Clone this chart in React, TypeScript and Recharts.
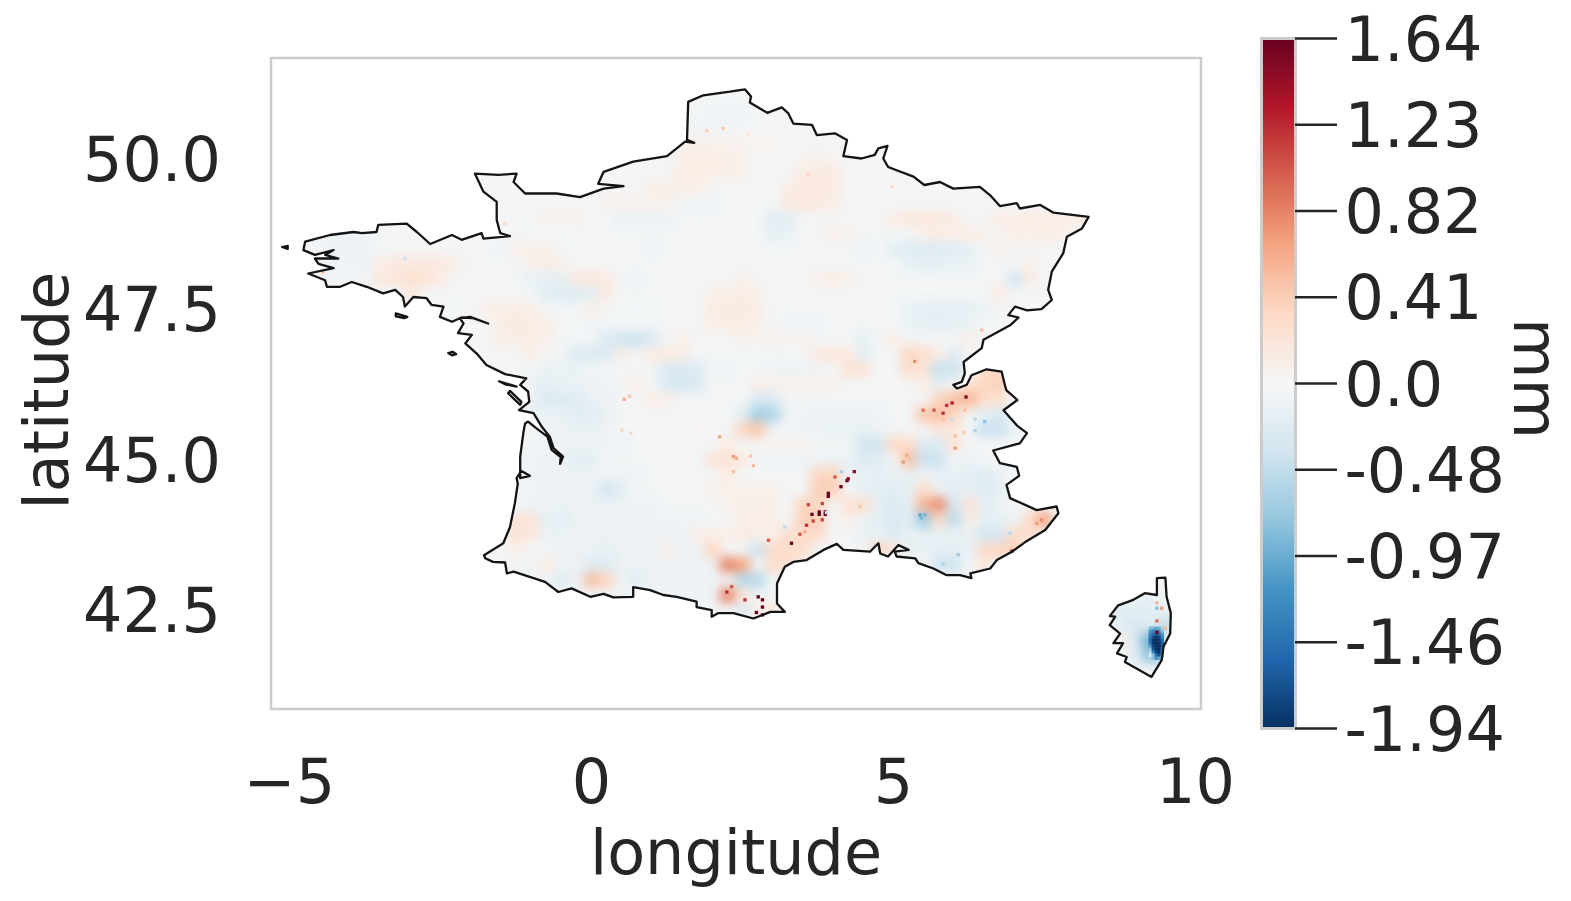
import { Bar, BarChart, ReferenceArea, Scatter, ScatterChart, XAxis, YAxis } from "recharts";

const INK = "#262626";
const FONT = "'DejaVu Sans', sans-serif";
const TICK_FONT = 62;

const lonDomain = [-5.306, 10.09];
const latDomain = [40.857, 51.67];
const lonTicks = [-5, 0, 5, 10];
const latTicks = [42.5, 45, 47.5, 50];

// colorbar, two slope norm so the labels sit evenly
const colorbarLabels = ["-1.94", "-1.46", "-0.97", "-0.48", "0.0", "0.41", "0.82", "1.23", "1.64"];
const colorbarPositions = [-4, -3, -2, -1, 0, 1, 2, 3, 4];
const colorbarBar = [{ name: "mm", range: [-4, 4] }];
const rdBu = ["#053061", "#2166ac", "#4393c3", "#92c5de", "#d1e5f0", "#f7f7f7", "#fddbc7", "#f4a582", "#d6604d", "#b2182b", "#67001f"];

// lon, lat outlines
const mainland = [
  [-1.78, 43.41], [-1.46, 43.61], [-1.35, 43.88], [-1.27, 44.27], [-1.22, 44.6], [-1.24, 44.69], [-1.16, 44.81], [-1.02, 44.73], [-1.18, 44.69], [-1.18, 45.05],
  [-1.13, 45.44], [-1.1, 45.6], [-1.05, 45.63], [-0.91, 45.52], [-0.73, 45.38], [-0.66, 45.16], [-0.51, 45.04], [-0.52, 44.93], [-0.47, 45.05], [-0.63, 45.19],
  [-0.69, 45.38], [-0.82, 45.54], [-0.96, 45.77], [-1.2, 45.82], [-1.03, 45.96], [-1.05, 46.13], [-1.18, 46.24], [-1.08, 46.35], [-1.43, 46.42], [-1.74, 46.57],
  [-1.9, 46.76], [-2.09, 46.93], [-1.98, 47.07], [-2.21, 47.1], [-2.12, 47.26], [-2.18, 47.35], [-2.01, 47.37], [-1.71, 47.26], [-1.96, 47.35], [-2.15, 47.36],
  [-2.31, 47.29], [-2.51, 47.37], [-2.45, 47.54], [-2.65, 47.57], [-2.73, 47.68], [-2.95, 47.7], [-3.09, 47.54], [-3.12, 47.7], [-3.25, 47.82], [-3.45, 47.76],
  [-3.72, 47.87], [-3.97, 47.95], [-4.16, 47.87], [-4.38, 47.87], [-4.41, 47.98], [-4.69, 48.09], [-4.27, 48.18], [-4.52, 48.25], [-4.58, 48.34], [-4.19, 48.34],
  [-4.41, 48.4], [-4.27, 48.48], [-4.58, 48.4], [-4.77, 48.48], [-4.74, 48.62], [-4.33, 48.73], [-3.94, 48.78], [-3.8, 48.76], [-3.56, 48.78], [-3.53, 48.9],
  [-3.06, 48.92], [-2.89, 48.78], [-2.67, 48.58], [-2.31, 48.73], [-2.15, 48.65], [-1.82, 48.76], [-1.79, 48.67], [-1.35, 48.71], [-1.51, 48.76], [-1.57, 48.98],
  [-1.57, 49.28], [-1.79, 49.45], [-1.93, 49.75], [-1.54, 49.73], [-1.24, 49.75], [-1.29, 49.61], [-1.1, 49.42], [-0.58, 49.42], [-0.19, 49.36], [0.2, 49.5],
  [0.53, 49.54], [0.11, 49.58], [0.2, 49.78], [0.69, 49.95], [1.25, 50.04], [1.55, 50.28], [1.7, 50.26], [1.58, 50.31], [1.6, 50.94], [1.85, 51.05],
  [2.29, 51.11], [2.54, 51.15], [2.64, 51.03], [2.62, 50.93], [2.91, 50.76], [3.15, 50.85], [3.26, 50.75], [3.34, 50.58], [3.65, 50.56], [3.73, 50.39],
  [4.03, 50.42], [4.23, 50.31], [4.17, 50.04], [4.47, 50.0], [4.69, 50.06], [4.75, 50.17], [4.9, 50.21], [4.83, 50.0], [4.91, 49.86], [5.33, 49.7],
  [5.51, 49.56], [5.77, 49.61], [5.99, 49.5], [6.43, 49.53], [6.6, 49.39], [6.76, 49.21], [7.04, 49.26], [7.09, 49.17], [7.43, 49.23], [7.65, 49.1],
  [8.23, 49.03], [8.12, 48.84], [7.87, 48.7], [7.81, 48.43], [7.62, 48.12], [7.56, 47.82], [7.62, 47.65], [7.45, 47.5], [7.21, 47.48], [7.01, 47.54],
  [6.9, 47.4], [7.07, 47.36], [6.93, 47.23], [6.49, 46.99], [6.46, 46.85], [6.16, 46.62], [6.18, 46.43], [6.13, 46.29], [5.99, 46.24], [6.05, 46.18],
  [6.21, 46.24], [6.29, 46.4], [6.54, 46.5], [6.79, 46.46], [6.85, 46.21], [6.87, 46.15], [7.05, 45.99], [6.82, 45.82], [7.04, 45.57], [7.21, 45.44],
  [7.09, 45.27], [6.65, 45.15], [6.76, 44.94], [7.04, 44.88], [7.08, 44.73], [6.87, 44.58], [6.93, 44.36], [7.37, 44.16], [7.7, 44.22], [7.73, 44.11],
  [7.51, 43.83], [7.18, 43.63], [6.96, 43.47], [6.71, 43.33], [6.6, 43.19], [6.27, 43.11], [6.29, 43.03], [6.1, 43.08], [5.88, 43.08], [5.66, 43.19],
  [5.41, 43.28], [5.36, 43.36], [5.05, 43.39], [5.02, 43.47], [5.25, 43.5], [5.08, 43.58], [4.91, 43.39], [4.78, 43.44], [4.75, 43.61], [4.61, 43.47],
  [4.17, 43.5], [4.06, 43.6], [3.84, 43.5], [3.56, 43.33], [3.34, 43.3], [3.2, 43.22], [3.07, 42.94], [3.07, 42.61], [3.2, 42.47], [2.96, 42.47],
  [2.68, 42.36], [2.35, 42.45], [2.1, 42.45], [1.99, 42.39], [1.99, 42.5], [1.74, 42.55], [1.74, 42.64], [1.41, 42.72], [1.19, 42.75], [0.97, 42.83],
  [0.69, 42.88], [0.69, 42.72], [0.36, 42.71], [0.2, 42.77], [-0.02, 42.72], [-0.33, 42.86], [-0.55, 42.8], [-0.77, 42.97], [-1.29, 43.14], [-1.4, 43.11],
  [-1.43, 43.29], [-1.63, 43.3], [-1.76, 43.36],
];
const corsica = [
  [9.36, 43.03], [9.5, 43.04], [9.52, 42.72], [9.59, 42.45], [9.58, 42.11], [9.47, 41.89], [9.44, 41.67], [9.27, 41.39], [9.11, 41.48], [8.83, 41.64],
  [8.86, 41.72], [8.7, 41.78], [8.8, 41.95], [8.64, 41.95], [8.75, 42.11], [8.58, 42.25], [8.67, 42.39], [8.58, 42.4], [8.72, 42.58], [8.97, 42.67],
  [9.16, 42.78], [9.36, 42.75],
];
const ouessant = [[-5.12, 48.53], [-5.03, 48.55], [-5.03, 48.5]];
const belleIle = [[-3.24, 47.43], [-3.05, 47.37], [-3.1, 47.35], [-3.24, 47.38]];
const yeu = [[-2.37, 46.77], [-2.3, 46.79], [-2.24, 46.75], [-2.31, 46.73]];
const re = [[-1.53, 46.3], [-1.24, 46.21], [-1.43, 46.25]];
const oleron = [[-1.38, 46.1], [-1.18, 45.91], [-1.16, 45.96], [-1.35, 46.14]];
const coastRings = [mainland, corsica, ouessant, belleIle, yeu, re, oleron];

// anomalies on a quarter degree grid: lat, first lon, then one value per cell eastward
const washRows = [
  [48.75, -4.5, -0.1, -0.1, -0.08, -0.08],
  [48.5, -1.5, -0.08, -0.08, -0.08, -0.08],
  [46.25, -1, -0.12, -0.12, -0.12, -0.12, -0.12, -0.1],
  [46, -1, -0.12, -0.12, -0.12, -0.12, -0.12, -0.12],
  [45.75, -1, -0.12, -0.12, -0.12, -0.12, -0.12, -0.12],
  [45.5, -0.75, -0.12, -0.12, -0.12, -0.12, -0.12],
  [45.25, -0.75, -0.1, -0.1, -0.1, -0.1, -0.1, -0.1],
  [45, -1, -0.1, -0.1, -0.1, -0.1, -0.1],
  [44.75, -1, -0.1, -0.1, -0.1, -0.12, -0.1, -0.1, -0.1, -0.1],
  [44.5, -1, -0.1, -0.1, -0.1, -0.1, -0.1],
  [44.25, -1.25, -0.1, -0.1, -0.1, -0.12, -0.12, -0.12, -0.1, -0.1, -0.1, -0.1],
  [44, -1, -0.12, -0.12, -0.12, -0.12, -0.12, -0.12, -0.12, -0.1, -0.1, -0.1, -0.1, -0.1],
  [43.75, -0.75, -0.12, -0.12, -0.12, -0.12, -0.12, -0.1, -0.1, -0.1, -0.1, -0.1],
  [43.5, -0.5, -0.12, -0.12, -0.12, -0.15, -0.12, -0.12, -0.1, -0.1, -0.1, -0.1],
  [43.25, -1, -0.1, -0.1, -0.1, -0.12, -0.12, -0.12, -0.12, -0.12, -0.12, -0.1, -0.1, -0.1, -0.1, -0.1],
  [43, -0.75, -0.1, -0.1, -0.12, -0.12, -0.12, -0.1, -0.1, -0.1, -0.1, -0.1, -0.1, -0.1],
  [42.75, 0.25, -0.1, -0.1, -0.1, -0.1, -0.1, -0.12, -0.12, -0.1, -0.1, -0.1],
  [46.5, 3, -0.1, -0.1, -0.1, -0.1],
  [45.75, 3.25, -0.1, -0.1, -0.12, -0.12, -0.12, -0.12, -0.1],
  [45.5, 3.5, -0.1, -0.12, -0.14, -0.14, -0.14, -0.12],
  [45, 3, -0.1, -0.1, -0.1, -0.1, -0.12, -0.14],
  [44.75, 4.25, -0.15, -0.15, -0.18, -0.18, -0.15, -0.15, -0.15, -0.18, -0.2, -0.15, -0.15],
  [44.5, 4.5, -0.15, -0.2, -0.2, -0.18, -0.15, -0.15, -0.18, -0.18, -0.2, -0.2],
  [44.25, 4.5, -0.12, -0.18, -0.25, -0.2, -0.15, -0.15, -0.15, -0.18, -0.2, -0.18],
  [44, 4.5, -0.12, -0.2, -0.28, -0.22, -0.15, -0.15, -0.15, -0.18, -0.2, -0.18, -0.12],
  [43.75, 4.5, -0.12, -0.15, -0.2, -0.15, -0.15, -0.15, -0.12, -0.15, -0.2, -0.15],
  [43.5, 5.25, -0.15, -0.15, -0.18, -0.18, -0.15, -0.12],
  [44.5, 2, 0.08, 0.08, 0.08, 0.08, 0.08],
  [44.25, 2.25, 0.08, 0.1, 0.1, 0.1],
  [44, 2.5, 0.1, 0.1, 0.12],
  [43.75, 2, 0.1, 0.1, 0.1, 0.1, 0.1],
  [46.25, 3, 0.08, 0.08, 0.08, 0.08, 0.08],
  [45.25, 3, 0.06, 0.06, 0.06],
  [46.75, 5.75, 0.1, 0.1],
];

const fieldRows = [
  [50.75, 2, -0.08, -0.08, -0.08],
  [50.5, 1.75, -0.06, -0.06, -0.06, -0.06],
  [50.25, 1.5, 0.08, 0.08, 0.08, 0.06, 0.06, 0.06, 0.06],
  [50, 1.5, 0.12, 0.12, 0.12, 0.1, 0.08],
  [50, 3.5, 0.06, 0.08, 0.06],
  [49.75, 1.5, 0.13, 0.13, 0.12, 0.1, 0.08],
  [49.75, 3.5, 0.14, 0.16, 0.15],
  [49.5, 1, 0.12, 0.11, 0.12, 0.1],
  [49.5, 3.25, 0.14, 0.16, 0.16, 0.14],
  [49.25, 0.25, 0.08, 0.07, 0.08, 0.07, 0.08],
  [49.25, 1.5, -0.08, -0.07, -0.08],
  [49.25, 3.25, 0.15, 0.17, 0.15, 0.13],
  [49, -0.75, 0.08, 0.07, 0.08],
  [49, 0.5, -0.15, -0.14, -0.15, -0.12],
  [49, 3, -0.22, -0.2],
  [49, 5, 0.14, 0.16, 0.18, 0.16, 0.14],
  [49, 6.75, 0.14, 0.12, 0.14, 0.13, 0.14, 0.12, 0.1],
  [48.75, -1, -0.05, -0.05, -0.05],
  [48.75, 3, -0.18, -0.16],
  [48.75, 4, 0.1, 0.08],
  [48.75, 5.5, 0.1, 0.12, 0.1, 0.12, 0.1],
  [48.75, 7, 0.12, 0.1, 0.12, 0.1],
  [48.5, -4.25, -0.12, -0.1, -0.12],
  [48.5, -1.25, 0.1, 0.08, 0.1],
  [48.5, 1, -0.1],
  [48.5, 4.5, -0.12],
  [48.5, 5, -0.2, -0.24, -0.26, -0.24, -0.22, -0.18],
  [48.5, 6.75, 0.1],
  [48.25, -4.25, -0.12, -0.1, -0.12],
  [48.25, -3.5, 0.12, 0.16, 0.16, 0.18, 0.16, 0.1],
  [48.25, -1, 0.1, 0.12, 0.1],
  [48.25, 5.25, -0.16, -0.18, -0.18, -0.16, -0.14],
  [48.25, 7.25, 0.12],
  [48, -3.5, 0.16, 0.2, 0.26, 0.24, 0.14],
  [48, -1, -0.16, -0.18, -0.2, -0.16],
  [48, -0.25, 0.16, 0.18, 0.15],
  [48, 0.75, -0.1],
  [48, 2.5, 0.1],
  [48, 3.75, 0.1, 0.12, 0.1],
  [48, 7, -0.35],
  [48, 7.25, 0.14],
  [47.75, -3, 0.16],
  [47.75, -0.75, -0.22, -0.24, -0.26, -0.2],
  [47.75, 0.25, 0.16],
  [47.75, 2, 0.1, 0.12, 0.12, 0.1],
  [47.75, 6.75, 0.15],
  [47.5, -2.25, -0.05],
  [47.5, -1.75, 0.1, 0.12, 0.12, 0.1],
  [47.5, 0, 0.12],
  [47.5, 0.5, -0.05, -0.05, -0.05],
  [47.5, 2, 0.12, 0.15, 0.15, 0.12],
  [47.5, 5.25, -0.16, -0.18, -0.2, -0.18, -0.18, -0.14],
  [47.25, -1.5, 0.12, 0.15, 0.14, 0.12],
  [47.25, -0.25, -0.05],
  [47.25, 0, -0.1],
  [47.25, 2, 0.12, 0.14, 0.13, 0.1],
  [47.25, 3.25, -0.08, -0.08, -0.08],
  [47.25, 5.25, -0.14, -0.16, -0.18, -0.16, -0.14],
  [47, -1.5, 0.1, 0.12, 0.13, 0.1],
  [47, 0.25, -0.3, -0.38, -0.42, -0.3],
  [47, 1.5, 0.1],
  [47, 2.5, 0.08, 0.06, 0.08, 0.06, 0.08],
  [47, 4.5, -0.18],
  [47, 5, 0.12],
  [47, 6.25, 0.12],
  [46.75, -1, 0.12],
  [46.75, -0.25, -0.28, -0.3, -0.28],
  [46.75, 0.5, 0.12],
  [46.75, 1, 0.14, 0.16, 0.13],
  [46.75, 2.5, -0.05, -0.05, -0.05, -0.05],
  [46.75, 3.75, 0.16, 0.2, 0.15],
  [46.75, 4.5, -0.2],
  [46.75, 5.25, 0.35, 0.3],
  [46.75, 6, -0.25],
  [46.5, -0.75, -0.14, -0.14, -0.14],
  [46.5, 1.25, -0.3, -0.3, -0.28],
  [46.5, 2.25, -0.1],
  [46.5, 4.25, 0.25, 0.22],
  [46.5, 5.25, 0.3, 0.22],
  [46.5, 5.75, -0.45, -0.4],
  [46.5, 6.5, 0.3, 0.35],
  [46.25, -0.75, -0.2],
  [46.25, 0.75, 0.12],
  [46.25, 1.25, -0.3, -0.36, -0.3],
  [46.25, 2.75, 0.1],
  [46.25, 5.5, 0.12],
  [46.25, 5.75, -0.2],
  [46.25, 6.25, 0.25, 0.35, 0.4],
  [46, -0.75, -0.28, -0.28, -0.26],
  [46, 1, 0.12, 0.1],
  [46, 2.75, -0.3, -0.3],
  [46, 5.75, 0.35, 0.5, 0.55, 0.3, 0.25],
  [45.75, -0.25, -0.22, -0.22],
  [45.75, 2.5, -0.2, -0.65, -0.6],
  [45.75, 5.5, 0.45, 0.5, 0.35],
  [45.75, 6.5, -0.2, -0.3],
  [45.5, 1.75, 0.05],
  [45.5, 2.5, 0.35, 0.45, -0.1],
  [45.5, 5.75, 0.2, 0.2],
  [45.5, 6.5, -0.42, -0.42, -0.15],
  [45.25, 2.25, 0.15],
  [45.25, 4.5, -0.38, -0.38],
  [45.25, 5, 0.32, 0.32],
  [45.25, 5.5, -0.28, -0.28],
  [45.25, 6, 0.2],
  [45, -0.25, -0.2, -0.2],
  [45, 2, 0.2, 0.25, 0.15],
  [45, 4.5, -0.25, -0.25],
  [45, 5.25, 0.5],
  [45, 5.5, -0.42, -0.42],
  [45, 6.25, -0.12],
  [45, 7, -0.15],
  [44.75, 2.25, 0.15],
  [44.75, 3.75, 0.35, 0.35],
  [44.75, 5, -0.15],
  [44.75, 5.5, -0.1],
  [44.75, 6.5, -0.25],
  [44.5, -0.75, -0.1],
  [44.5, 0.25, -0.38, -0.2],
  [44.5, 3.75, 0.4, 0.4],
  [44.5, 5.5, 0.3],
  [44.5, 6, -0.2],
  [44.5, 6.5, -0.25],
  [44.25, 3.5, 0.35, 0.35],
  [44.25, 4.25, 0.25, 0.25],
  [44.25, 5, -0.3],
  [44.25, 5.5, 0.55, 0.75],
  [44.25, 6, -0.35, 0.22],
  [44.25, 6.75, -0.1],
  [44, -1.25, 0.22, 0.22],
  [44, -0.75, -0.18, -0.18],
  [44, 3.5, 0.4, 0.4],
  [44, 4.25, 0.1],
  [44, 5, -0.3],
  [44, 5.5, -0.7, 0.3, -0.5, 0.12],
  [44, 7.25, 0.3, 0.65],
  [43.75, -1.25, 0.25, 0.18],
  [43.75, 1.75, 0.1],
  [43.75, 2.5, 0.15],
  [43.75, 3.25, 0.3, 0.3, 0.3],
  [43.75, 4.5, -0.15],
  [43.75, 5, -0.28],
  [43.75, 6.5, -0.35, -0.35],
  [43.75, 7, 0.3, 0.3],
  [43.5, -1.25, 0.1],
  [43.5, 1.25, 0.1],
  [43.5, 2, 0.35],
  [43.5, 2.75, -0.42, 0.3, 0.3, 0.3],
  [43.5, 4, 0.05],
  [43.5, 4.75, 0.35, 0.2],
  [43.5, 6, -0.2],
  [43.5, 6.5, 0.3, 0.35, 0.4],
  [43.25, -0.75, 0.15],
  [43.25, 0, -0.25, -0.25],
  [43.25, 2.25, 0.8, 0.65],
  [43.25, 3, 0.3, 0.3],
  [43.25, 5.75, -0.4, -0.4],
  [43.25, 6.5, 0.2],
  [43, -0.5, -0.25],
  [43, 0, 0.5, 0.35],
  [43, 0.75, -0.22],
  [43, 2.5, -0.55, -0.55],
  [42.75, 2.25, 0.8, 0.2, -0.1],
  [42.5, 2.5, -0.3, 0.1, 0.2],
  [42.75, 9, -0.1, -0.15],
  [42.5, 8.75, -0.22, -0.22, -0.22],
  [42.5, 9.5, -0.15],
  [42.25, 8.75, -0.25, -0.3, -0.2, -0.5, 0.2],
  [42, 8.75, 0.1, -0.3, -1.0, -0.3],
  [41.75, 9, -0.25, -0.8, -0.5],
];

// twentieth of a degree cells along the east coast of Corsica
const fineRows = [
  [42.2, 9.25, -0.8, -0.9, -1.0, -0.9, -0.6],
  [42.15, 9.25, -1.1, -1.3, -1.2, -1.2, -0.8],
  [42.1, 9.25, -1.3, -1.5, -1.6, -1.5, -1.1],
  [42.05, 9.25, -1.4, -1.7, -1.9, -1.8, -1.3],
  [42, 9.25, -1.5, -1.9, -1.94, -1.9, -1.5],
  [41.95, 9.25, -1.4, -1.9, -1.94, -1.94, -1.6],
  [41.9, 9.25, -1.1, -1.8, -1.94, -1.94, -1.7],
  [41.85, 9.25, -0.8, -1.7, -1.94, -1.94, -1.5],
  [41.8, 9.25, -0.5, -1.3, -1.8, -1.94, -1.2],
  [41.75, 9.25, -0.3, -0.8, -1.5, -1.7, -0.8],
  [41.7, 9.3, -0.8, -1.2, -1.0],
];

// single outlying pixels: lon, lat, value
const specks = [
  [3.92, 44.44, 1.64], [3.92, 44.39, 1.64], [4.13, 44.55, 1.64], [4.23, 44.65, 1.6], [4.25, 44.68, 1.5], [4.35, 44.8, 1.5], [3.77, 44.13, 1.64], [3.77, 44.09, 1.64],
  [3.87, 44.13, 1.64], [3.87, 44.09, 1.64], [3.65, 44.09, 1.64], [3.31, 43.61, 1.64], [3.59, 44.25, 1.1], [3.82, 44.27, 1.1], [3.82, 44.0, 1.1], [3.56, 43.91, 1.2],
  [3.67, 43.98, 1.1], [3.45, 43.76, 1.0], [4.03, 44.71, 1.0], [5.88, 45.9, 1.2], [5.97, 45.94, 1.3], [6.2, 46.04, 1.5], [5.82, 45.77, 1.2], [5.49, 45.82, 0.9],
  [5.67, 45.82, 1.0], [6.02, 45.19, 0.7], [6.96, 43.48, 1.4], [2.76, 42.72, 1.64], [2.83, 42.67, 1.64], [2.83, 42.55, 1.64], [2.73, 42.46, 1.64], [2.83, 42.42, 1.64],
  [2.54, 42.67, 1.2], [2.24, 42.8, 1.2], [2.32, 42.89, 1.0], [2.93, 43.66, 1.0], [0.54, 46.0, 0.6], [0.63, 46.05, 0.45], [2.12, 45.38, 0.65], [2.35, 45.05, 0.7],
  [2.4, 45.02, 0.6], [2.35, 44.8, 0.5], [2.68, 44.9, 0.5], [2.63, 45.06, 0.45], [0.5, 45.49, 0.35], [0.65, 45.44, 0.35], [1.91, 50.46, 0.4], [2.18, 50.5, 0.45],
  [2.58, 50.41, 0.2], [-1.43, 48.92, 0.3], [-3.09, 48.34, -0.4], [-4.45, 48.12, 0.55], [5.35, 46.63, 0.75], [6.46, 47.15, 0.5], [4.97, 49.53, 0.3], [3.59, 49.73, 0.35],
  [9.36, 42.62, 0.55], [9.44, 42.53, 0.7], [9.36, 42.32, 0.9], [9.5, 42.2, 0.55], [9.36, 42.53, -0.8], [9.36, 42.13, 1.6],
  [6.02, 45.39, 0.5], [6.16, 45.45, 0.4], [6.35, 45.48, -0.6], [6.51, 45.63, -0.8], [6.35, 45.67, -0.5], [5.96, 45.67, -0.5], [6.18, 45.82, 0.5], [5.82, 45.67, 0.5],
  [5.44, 44.08, -1.0], [5.46, 44.03, -0.9], [5.52, 44.08, -0.9], [4.14, 44.8, -0.6], [3.89, 44.12, -0.5], [3.2, 43.88, -0.5], [4.45, 44.22, 0.45], [3.53, 43.8, 0.6],
  [6.07, 43.42, -0.7], [5.82, 43.27, -0.6], [6.93, 43.78, -0.5], [7.37, 43.94, 0.7], [7.45, 44.0, 0.75], [5.16, 44.96, 0.7], [5.22, 45.07, 0.6],
];

const LAND_VALUE = -0.04;
const COARSE_STEP = 0.25;
const FINE_STEP = 0.05;
const PX_PER_DEG = 60.4;

function colorOf(v: number) {
  const t = v >= 0 ? 0.5 + (0.5 * Math.min(v, 1.64)) / 1.64 : 0.5 + (0.5 * Math.max(v, -1.94)) / 1.94;
  const p = t * (rdBu.length - 1);
  const i = Math.min(Math.floor(p), rdBu.length - 2);
  const f = p - i;
  const hex = (c: string, k: number) => parseInt(c.slice(1 + k * 2, 3 + k * 2), 16);
  const mix = [0, 1, 2].map((k) => Math.round(hex(rdBu[i], k) * (1 - f) + hex(rdBu[i + 1], k) * f));
  return `rgb(${mix.join(",")})`;
}

function rowsToCells(rows: number[][], step: number) {
  return rows.flatMap(([lat, lon0, ...values]) => values.map((v, i) => ({ lon: lon0 + i * step, lat, v })));
}

const coastData = coastRings.flat().map(([lon, lat]) => ({ lon, lat }));
const coarseCells = rowsToCells([...washRows, ...fieldRows], COARSE_STEP);
const fineCells = rowsToCells(fineRows, FINE_STEP);
const speckCells = specks.map(([lon, lat, v]) => ({ lon, lat, v }));

function ringsPath(points: { x: number; y: number }[]) {
  let at = 0;
  return coastRings
    .map((ring) => {
      const part = points.slice(at, at + ring.length);
      at += ring.length;
      return "M" + part.map((p) => `${p.x.toFixed(1)},${p.y.toFixed(1)}`).join("L") + "Z";
    })
    .join("");
}

function LandFill(props: any) {
  const d = ringsPath(props.points);
  return (
    <g>
      <clipPath id="land">
        <path d={d} />
      </clipPath>
      <path d={d} fill={colorOf(LAND_VALUE)} stroke="none" />
    </g>
  );
}

function CoastStroke(props: any) {
  return <path d={ringsPath(props.points)} fill="none" stroke="#141414" strokeWidth={2.3} strokeLinejoin="round" />;
}

const NoDot = () => <g />;

function cellShape(step: number) {
  const size = step * PX_PER_DEG + 0.3;
  return (props: any) => {
    const v = props.payload?.v ?? props.v;
    return <rect x={props.cx - size / 2} y={props.cy - size / 2} width={size} height={size} fill={colorOf(v)} />;
  };
}

export default function App() {
  return (
    <div style={{ position: "absolute", left: 0, top: 0, width: 1571, height: 901, background: "#fff", fontFamily: FONT }}>
      <style>{`.heat-field { filter: blur(5.5px); clip-path: url(#land); }`}</style>
      <div style={{ position: "absolute", left: 0, top: 0 }}>
        <ScatterChart width={1571} height={901} margin={{ top: 58, right: 370, bottom: 0, left: 0 }}>
          <XAxis
            type="number"
            dataKey="lon"
            domain={lonDomain}
            allowDataOverflow
            ticks={lonTicks}
            interval={0}
            tickSize={0}
            tickMargin={50}
            height={192}
            axisLine={false}
            tickLine={false}
            tick={{ fontSize: TICK_FONT, fill: INK, fontFamily: FONT }}
            tickFormatter={(v: number) => (v < 0 ? `\u2212${-v}` : String(v))}
            label={{ value: "longitude", position: "center", dy: 47, fontSize: TICK_FONT, fill: INK, fontFamily: FONT }}
          />
          <YAxis
            type="number"
            dataKey="lat"
            domain={latDomain}
            allowDataOverflow
            ticks={latTicks}
            interval={0}
            tickSize={0}
            tickMargin={50}
            width={271}
            axisLine={false}
            tickLine={false}
            tick={{ fontSize: TICK_FONT, fill: INK, fontFamily: FONT }}
            tickFormatter={(v: number) => v.toFixed(1)}
            label={{ value: "latitude", position: "center", angle: -90, dx: -89.5, dy: 7, fontSize: TICK_FONT, fill: INK, fontFamily: FONT }}
          />
          <ReferenceArea
            x1={lonDomain[0]}
            x2={lonDomain[1]}
            y1={latDomain[0]}
            y2={latDomain[1]}
            fill="none"
            stroke="#cccccc"
            strokeWidth={2.5}
            ifOverflow="visible"
          />
          <Scatter data={coastData} line={LandFill} shape={NoDot} isAnimationActive={false} />
          <Scatter className="heat-field" data={coarseCells} shape={cellShape(COARSE_STEP)} isAnimationActive={false} />
          <Scatter data={fineCells} shape={cellShape(FINE_STEP)} isAnimationActive={false} />
          <Scatter data={speckCells} shape={cellShape(FINE_STEP)} isAnimationActive={false} />
          <Scatter data={coastData} line={CoastStroke} shape={NoDot} isAnimationActive={false} />
        </ScatterChart>
      </div>
      <div style={{ position: "absolute", left: 1240, top: 0 }}>
        <BarChart width={331} height={901} data={colorbarBar} barCategoryGap={0} margin={{ top: 38.5, right: 0, bottom: 172.5, left: 21.5 }}>
          <defs>
            <linearGradient id="rdbu" x1="0" y1="1" x2="0" y2="0">
              {rdBu.map((c, i) => (
                <stop key={c} offset={i / (rdBu.length - 1)} stopColor={c} />
              ))}
            </linearGradient>
          </defs>
          <XAxis dataKey="name" hide />
          <YAxis
            orientation="right"
            type="number"
            domain={[-4, 4]}
            ticks={colorbarPositions}
            interval={0}
            width={276}
            axisLine={false}
            tickSize={42}
            tickMargin={7.5}
            tickLine={{ stroke: INK, strokeWidth: 2.5 }}
            tick={{ fontSize: TICK_FONT, fill: INK, fontFamily: FONT, textAnchor: "start" }}
            tickFormatter={(v: number) => colorbarLabels[colorbarPositions.indexOf(v)]}
            label={{ value: "mm", position: "center", angle: 90, dx: 103, dy: -5, fontSize: TICK_FONT, fill: INK, fontFamily: FONT }}
          />
          <Bar dataKey="range" fill="url(#rdbu)" stroke="#cccccc" strokeWidth={3} isAnimationActive={false} />
        </BarChart>
      </div>
    </div>
  );
}
